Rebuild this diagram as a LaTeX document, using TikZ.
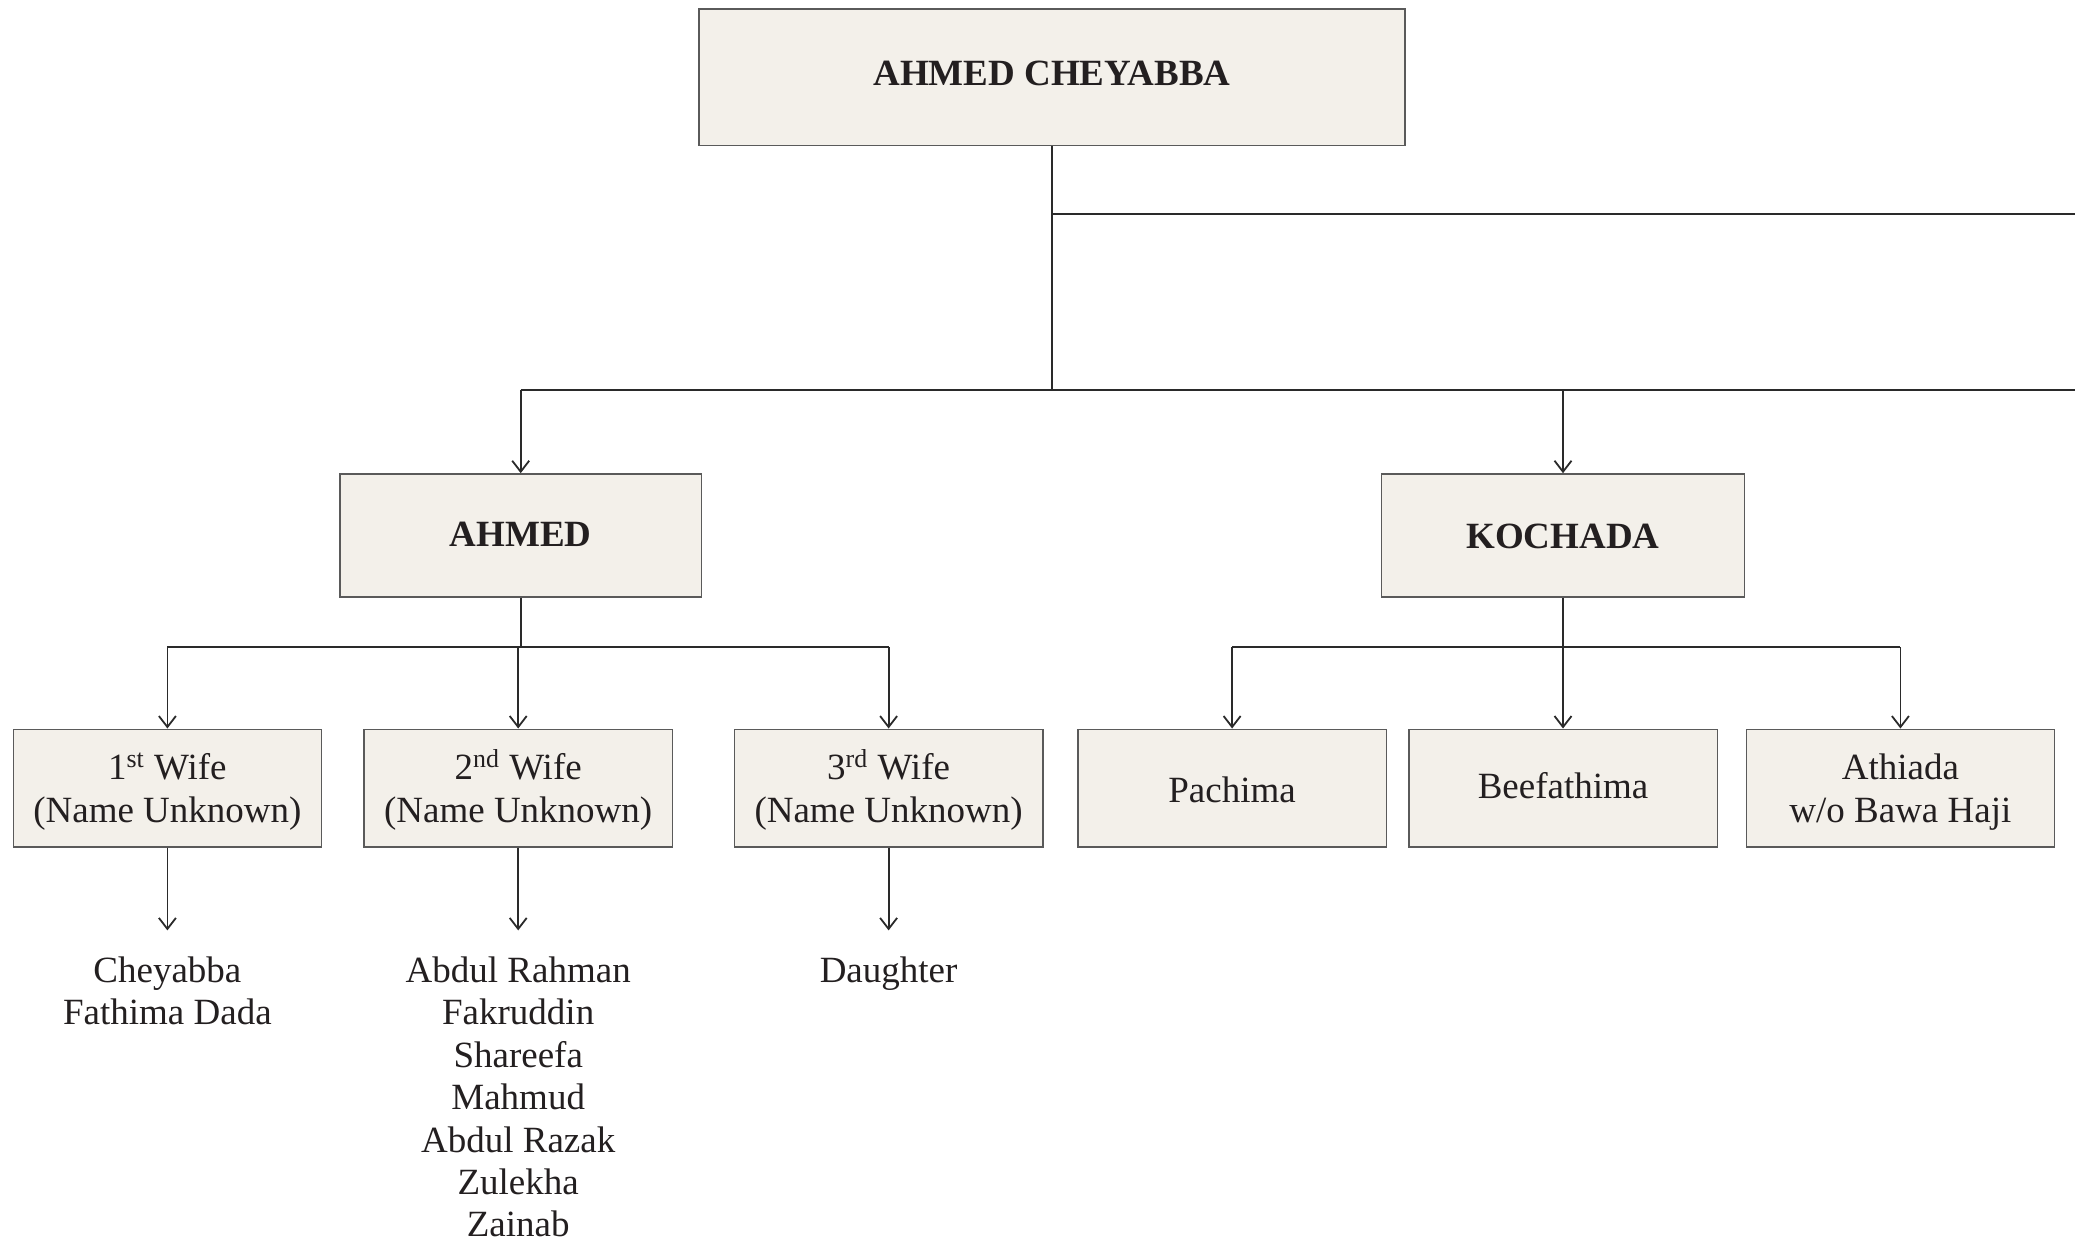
\documentclass[tikz,border=0pt]{standalone}
\usepackage{fontspec}
\setmainfont{Liberation Serif}
\usetikzlibrary{arrows.meta}
\definecolor{boxfill}{HTML}{F3F0EA}
\definecolor{boxline}{HTML}{5A5A5A}
\definecolor{lineclr}{HTML}{2A2A2A}
\definecolor{txt}{HTML}{231F20}
\newcommand{\sps}[1]{\smash{\textsuperscript{#1}}}
\newcommand{\shiftby}[2]{\raisebox{#1}[\height][\depth]{#2}}
\begin{document}
\begin{tikzpicture}[x=0.5pt,y=-0.5pt,
  every node/.style={text=txt, font=\fontsize{18.5}{21.2}\selectfont},
  person/.style={draw=boxline, fill=boxfill, line width=0.7pt, align=center, inner sep=2pt},
  bigbox/.style={person, font=\bfseries\fontsize{18.5}{21.2}\selectfont},
  wifebox/.style={person, minimum width=154.2pt, minimum height=58.9pt, text depth=0pt},
  kidlist/.style={align=center, anchor=north, inner xsep=0pt, inner ysep=13pt},
  conn/.style={draw=lineclr, line width=0.9pt},
  arr/.style={conn, -{Straight Barb[length=5.5pt, width=8.5pt, line width=0.9pt]}}
]
\useasboundingbox (0,0) rectangle (2075,1245);

% boxes
\node[bigbox, minimum width=353pt, minimum height=68.3pt] (top) at (1052,77.5) {\shiftby{2pt}{AHMED CHEYABBA}};
\node[bigbox, minimum width=180.7pt, minimum height=61.5pt] (ahmed) at (520.7,535.4) {\shiftby{0.5pt}{AHMED}};
\node[bigbox, minimum width=181.3pt, minimum height=61.5pt] (kochada) at (1563,535.4) {\shiftby{-0.5pt}{KOCHADA}};

\node[wifebox] (w1) at (167.4,788.1) {1\sps{st} Wife\\(Name Unknown)};
\node[wifebox] (w2) at (518.2,788.1) {2\sps{nd} Wife\\(Name Unknown)};
\node[wifebox] (w3) at (888.6,788.1) {3\sps{rd} Wife\\(Name Unknown)};

\node[wifebox] (k1) at (1232.1,788.1) {\shiftby{-1pt}{Pachima}};
\node[wifebox] (k2) at (1563,788.1) {\shiftby{1.5pt}{Beefathima}};
\node[wifebox] (k3) at (1900.4,788.1) {Athiada\\w/o Bawa Haji};

% children lists
\node[kidlist] (l1) at (167.4,930.4) {Cheyabba\\Fathima Dada};
\node[kidlist] (l2) at (518.2,930.4) {Abdul Rahman\\Fakruddin\\Shareefa\\Mahmud\\Abdul Razak\\Zulekha\\Zainab};
\node[kidlist] (l3) at (888.6,930.4) {Daughter};

% connectors from top
\coordinate (j1) at (1052,214.4);
\coordinate (e1) at (2075,214.4);
\coordinate (j2) at (1052,390.4);
\coordinate (e2) at (2075,390.4);
\draw[conn] (top.south) -- (j2);
\draw[conn] (j1) -- (e1);
\draw[conn] (ahmed.north |- j2) -- (e2);
\draw[arr] (ahmed.north |- j2) -- (ahmed.north);
\draw[arr] (kochada.north |- j2) -- (kochada.north);

% AHMED to wives
\coordinate (a1) at (520.7,647.1);
\draw[conn] (ahmed.south) -- (a1);
\draw[conn] (w1.north |- a1) -- (w3.north |- a1);
\draw[arr] (w1.north |- a1) -- (w1.north);
\draw[arr] (w2.north |- a1) -- (w2.north);
\draw[arr] (w3.north |- a1) -- (w3.north);

% KOCHADA to children
\coordinate (b1) at (1563,647.1);
\draw[conn] (kochada.south) -- (b1);
\draw[conn] (k1.north |- b1) -- (k3.north |- b1);
\draw[arr] (k1.north |- b1) -- (k1.north);
\draw[arr] (k2.north |- b1) -- (k2.north);
\draw[arr] (k3.north |- b1) -- (k3.north);

% wives to children
\draw[arr] (w1.south) -- (l1.north);
\draw[arr] (w2.south) -- (l2.north);
\draw[arr] (w3.south) -- (l3.north);
\end{tikzpicture}
\end{document}
